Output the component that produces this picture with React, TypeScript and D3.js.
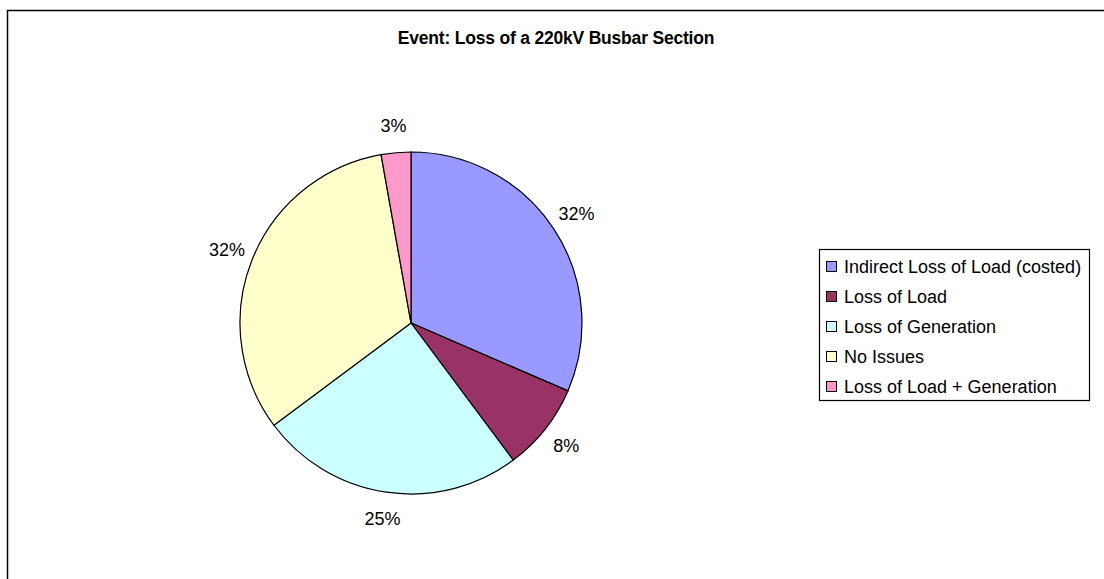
import React, { useRef, useEffect } from 'react';
import * as d3 from 'd3';

const title = 'Event: Loss of a 220kV Busbar Section';
const categories = [
  'Indirect Loss of Load (costed)',
  'Loss of Load',
  'Loss of Generation',
  'No Issues',
  'Loss of Load + Generation',
];
const shares = [31.5, 8.3, 25.0, 32.4, 2.8];
const colors = ['#9999FF', '#993366', '#CCFFFF', '#FFFFCC', '#FF99CC'];

const App = () => {
  const svgRef = useRef<SVGSVGElement>(null);

  useEffect(() => {
    const svg = d3.select(svgRef.current);
    svg.selectAll('*').remove();

    const font = 'Arial, "Liberation Sans", sans-serif';

    // outer frame
    svg.append('rect')
      .attr('x', 7.5).attr('y', 10.5)
      .attr('width', 1300).attr('height', 700)
      .attr('fill', 'white')
      .attr('stroke', 'black')
      .attr('stroke-width', 1.5);

    svg.append('text')
      .attr('x', 556).attr('y', 44)
      .attr('text-anchor', 'middle')
      .style('font-family', font)
      .style('font-weight', 'bold')
      .style('font-size', '17.5px')
      .style('letter-spacing', '-0.2px')
      .text(title);

    const data = categories.map((c, i) => ({ name: c, value: shares[i], color: colors[i] }));
    const total = d3.sum(shares);

    const pie = d3.pie<any>().sort(null).value(d => d.value);
    const arc = d3.arc<any>().innerRadius(0).outerRadius(171);
    const labelArc = d3.arc<any>().innerRadius(198).outerRadius(198);

    const g = svg.append('g').attr('transform', 'translate(411,323)');
    const arcs = pie(data);

    g.selectAll('path')
      .data(arcs)
      .enter()
      .append('path')
      .attr('d', arc)
      .attr('fill', d => d.data.color)
      .attr('stroke', 'black')
      .attr('stroke-width', 1.2);

    g.selectAll('.lbl')
      .data(arcs)
      .enter()
      .append('text')
      .attr('transform', d => `translate(${labelArc.centroid(d)})`)
      .attr('text-anchor', 'middle')
      .attr('dominant-baseline', 'central')
      .style('font-family', font)
      .style('font-size', '18px')
      .text(d => `${Math.round((d.data.value / total) * 100)}%`);

    // Legend
    const legend = svg.append('g');
    legend.append('rect')
      .attr('x', 819.5).attr('y', 249.5)
      .attr('width', 270).attr('height', 151)
      .attr('fill', 'white')
      .attr('stroke', 'black')
      .attr('stroke-width', 1.2);

    const rowY = d3.scalePoint().domain(categories).range([267, 387]);

    const rows = legend.selectAll('.row')
      .data(data)
      .enter()
      .append('g')
      .attr('transform', d => `translate(0,${rowY(d.name)})`);

    rows.append('rect')
      .attr('x', 826.5).attr('y', -5.5)
      .attr('width', 10).attr('height', 10)
      .attr('fill', d => d.color)
      .attr('stroke', 'black')
      .attr('stroke-width', 1);

    rows.append('text')
      .attr('x', 844).attr('y', 0)
      .attr('dominant-baseline', 'central')
      .style('font-family', font)
      .style('font-size', '18px')
      .text(d => d.name);
  }, []);

  return (
    <svg
      ref={svgRef}
      width={1104}
      height={579}
      style={{ position: 'absolute', left: 0, top: 0, background: 'white' }}
    ></svg>
  );
};

export default App;
